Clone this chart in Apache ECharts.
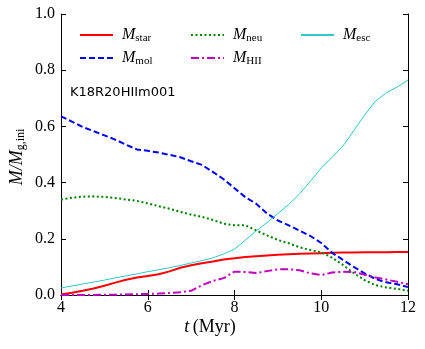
<!DOCTYPE html>
<html>
<head>
<meta charset="utf-8">
<script src="https://cdn.jsdelivr.net/npm/echarts@6/dist/echarts.min.js"></script>
<style>
  html, body { margin: 0; padding: 0; background: #fff; }
  #chart { width: 425px; height: 349px; }
</style>
</head>
<body>
<div id="chart"></div>
<script>
// time axis (Myr)
const time = [4.0, 4.25, 4.5, 4.75, 5.0, 5.25, 5.5, 5.75, 6.0, 6.25, 6.5, 6.75, 7.0, 7.25, 7.5, 7.75,
    8.0, 8.25, 8.5, 8.75, 9.0, 9.25, 9.5, 9.75, 10.0, 10.25, 10.5, 10.75, 11.0, 11.25, 11.5, 11.75, 12.0];

const mStar = [0.002, 0.008, 0.015, 0.023, 0.033, 0.044, 0.054, 0.062, 0.068, 0.074, 0.084, 0.097, 0.106, 0.113, 0.119, 0.126,
    0.131, 0.135, 0.138, 0.141, 0.143, 0.145, 0.147, 0.148, 0.149, 0.150, 0.151, 0.151, 0.152, 0.152, 0.152, 0.153, 0.153];
const mMol = [0.636, 0.617, 0.598, 0.583, 0.568, 0.553, 0.535, 0.518, 0.513, 0.507, 0.499, 0.490, 0.476, 0.463, 0.438, 0.412,
    0.380, 0.348, 0.325, 0.290, 0.265, 0.248, 0.229, 0.210, 0.185, 0.150, 0.125, 0.100, 0.077, 0.057, 0.045, 0.038, 0.028];
const mNeu = [0.340, 0.346, 0.350, 0.351, 0.349, 0.345, 0.340, 0.335, 0.326, 0.316, 0.307, 0.296, 0.286, 0.278, 0.267, 0.254,
    0.248, 0.248, 0.230, 0.212, 0.196, 0.184, 0.170, 0.160, 0.152, 0.133, 0.107, 0.078, 0.053, 0.035, 0.027, 0.022, 0.015];
const mHII = [0.0, 0.0, 0.0, 0.0, 0.001, 0.001, 0.002, 0.003, 0.004, 0.005, 0.007, 0.010, 0.015, 0.035, 0.050, 0.060,
    0.083, 0.082, 0.078, 0.085, 0.091, 0.092, 0.088, 0.077, 0.071, 0.080, 0.083, 0.082, 0.072, 0.062, 0.055, 0.047, 0.038];
const mEsc = [0.025, 0.032, 0.039, 0.046, 0.053, 0.061, 0.068, 0.075, 0.083, 0.090, 0.097, 0.105, 0.114, 0.122, 0.132, 0.146,
    0.163, 0.195, 0.228, 0.258, 0.290, 0.322, 0.360, 0.405, 0.452, 0.490, 0.530, 0.585, 0.640, 0.690, 0.720, 0.740, 0.765];

const xTicks = [4, 6, 8, 10, 12];
const yTicks = [0.0, 0.2, 0.4, 0.6, 0.8, 1.0];

const pairs = ys => time.map((t, i) => [t, ys[i]]);

const serif = 'Liberation Serif';
const rich = {
    m: { fontFamily: serif, fontStyle: 'italic', fontSize: 16, color: '#000', lineHeight: 20 },
    s: { fontFamily: serif, fontSize: 11, color: '#000', lineHeight: 20, padding: [7, 0, 0, 0] }
};
const tickRich = { n: { fontFamily: serif, fontSize: 16, color: '#000' } };
const subs = { 'M_star': 'star', 'M_mol': 'mol', 'M_neu': 'neu', 'M_HII': 'HII', 'M_esc': 'esc' };

const mkLegend = (name, left, top) => ({
    data: [name],
    left: left, top: top,
    itemWidth: 33, itemHeight: 14,
    itemStyle: { opacity: 0 },
    formatter: n => '{m|M}{s|' + subs[n] + '}',
    textStyle: { rich: rich, padding: [0, 0, 0, 4] },
    selectedMode: false
});

const chart = echarts.init(document.getElementById('chart'));

const axisCommon = {
    type: 'value',
    axisLine: { show: true, lineStyle: { color: '#000', width: 1 } },
    axisTick: { show: true, inside: true, length: 5, lineStyle: { color: '#000' } },
    splitLine: { show: false }
};

chart.setOption({
    animation: false,
    textStyle: { fontFamily: serif },
    grid: { left: 61, right: 17, top: 14, bottom: 54 },
    xAxis: [
        Object.assign({}, axisCommon, {
            min: 4, max: 12, interval: 2, position: 'bottom',
            axisLabel: { fontFamily: serif, fontSize: 16, color: '#000', margin: 5, rich: tickRich,
                formatter: v => xTicks.includes(v) ? '{n|' + v + '}' : '' }
        }),
        Object.assign({}, axisCommon, {
            min: 4, max: 12, interval: 2, position: 'top', axisLabel: { show: false }
        })
    ],
    yAxis: [
        Object.assign({}, axisCommon, {
            min: 0, max: 1, interval: 0.2, position: 'left',
            axisLabel: { fontFamily: serif, fontSize: 16, color: '#000', margin: 6, rich: tickRich,
                formatter: v => yTicks.some(t => Math.abs(t - v) < 1e-9) ? '{n|' + v.toFixed(1) + '}' : '' }
        }),
        Object.assign({}, axisCommon, {
            min: 0, max: 1, interval: 0.2, position: 'right', axisLabel: { show: false }
        })
    ],
    legend: [
        mkLegend('M_star', 74, 21),
        mkLegend('M_mol', 74, 44),
        mkLegend('M_neu', 185, 21),
        mkLegend('M_HII', 185, 44),
        mkLegend('M_esc', 295, 21)
    ],
    graphic: [
        {
            type: 'text', left: 70, top: 86,
            style: { text: 'K18R20HIIm001', fontFamily: 'DejaVu Sans', fontSize: 13, fill: '#000' }
        },
        {
            type: 'text', x: 210, y: 327,
            style: {
                text: '{m|t} {r|(Myr)}', align: 'center', verticalAlign: 'middle',
                rich: {
                    m: { fontFamily: serif, fontStyle: 'italic', fontSize: 18, fill: '#000' },
                    r: { fontFamily: serif, fontSize: 18, fill: '#000' }
                }
            }
        },
        {
            type: 'text', x: 17, y: 157, rotation: Math.PI / 2,
            style: {
                text: '{m|M/M}{s|g,ini}', align: 'center', verticalAlign: 'middle',
                rich: {
                    m: { fontFamily: serif, fontStyle: 'italic', fontSize: 18, fill: '#000', lineHeight: 22 },
                    s: { fontFamily: serif, fontSize: 12, fill: '#000', lineHeight: 22, padding: [8, 0, 0, 0] }
                }
            }
        }
    ],
    series: [
        { name: 'M_star', type: 'line', data: pairs(mStar), showSymbol: false, symbol: 'none',
          lineStyle: { color: '#ff0000', width: 2 }, itemStyle: { color: '#ff0000' } },
        { name: 'M_mol', type: 'line', data: pairs(mMol), showSymbol: false, symbol: 'none',
          lineStyle: { color: '#0000ff', width: 2, type: [6, 3] }, itemStyle: { color: '#0000ff' } },
        { name: 'M_neu', type: 'line', data: pairs(mNeu), showSymbol: false, symbol: 'none',
          lineStyle: { color: '#008000', width: 2, type: [2, 2.5] }, itemStyle: { color: '#008000' } },
        { name: 'M_HII', type: 'line', data: pairs(mHII), showSymbol: false, symbol: 'none',
          lineStyle: { color: '#bf00bf', width: 2, type: [8, 3, 2, 3] }, itemStyle: { color: '#bf00bf' } },
        { name: 'M_esc', type: 'line', data: pairs(mEsc), showSymbol: false, symbol: 'none',
          lineStyle: { color: '#30c8c8', width: 1 }, itemStyle: { color: '#30c8c8' } }
    ]
});
</script>
</body>
</html>
